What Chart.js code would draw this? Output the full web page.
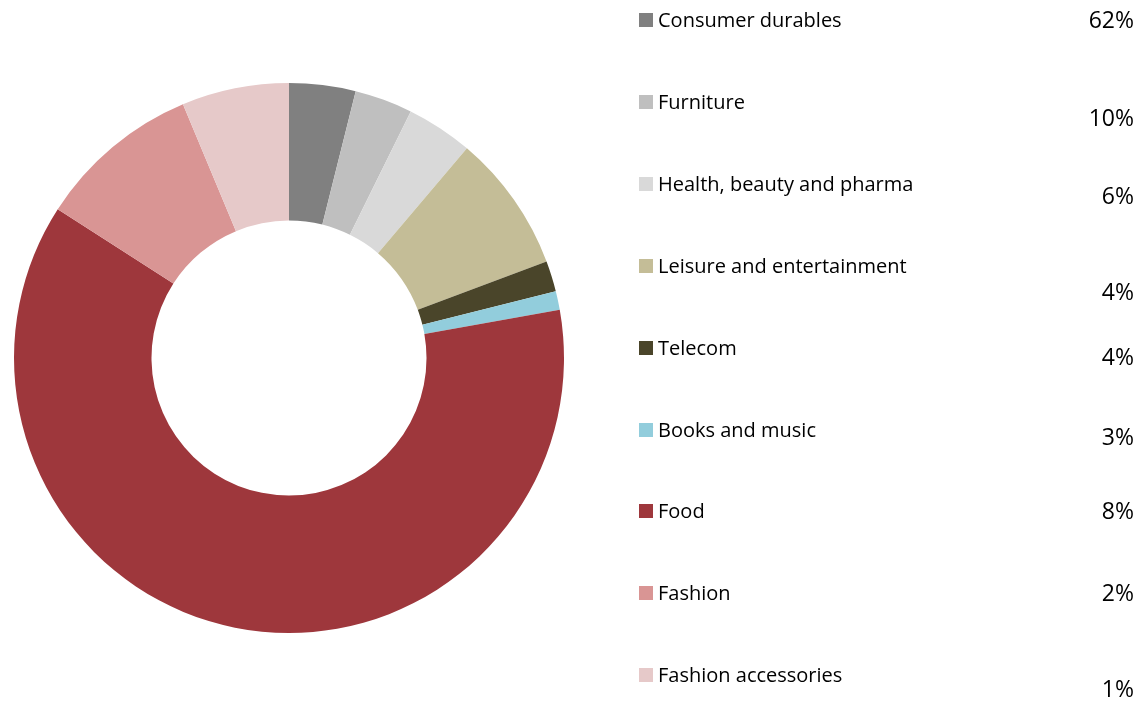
<!DOCTYPE html>
<html>
<head>
<meta charset="utf-8">
<script src="https://cdn.jsdelivr.net/npm/chart.js@4/dist/chart.umd.min.js"></script>
<style>
	html, body { margin: 0; padding: 0; background: #fff; }
	#wrap { width: 1137px; height: 701px; position: relative; }
</style>
</head>
<body>
<div id="wrap"><canvas id="shareChart"></canvas></div>
<script>
	// Data
	var categories = [ 'Consumer durables', 'Furniture', 'Health, beauty and pharma', 'Leisure and entertainment',
		'Telecom', 'Books and music', 'Food', 'Fashion', 'Fashion accessories' ];
	var shares = [ 3.9, 3.4, 3.9, 8.1, 1.8, 1.1, 61.9, 9.6, 6.3 ];
	var colors = [ '#808080', '#bfbfbf', '#d9d9d9', '#c4bd97', '#4a452a', '#92cddc', '#9e373c', '#d99594', '#e6c9c9' ];
	// Percentage text shown in the right column (as printed in the source)
	var pctLabels = [ '62%', '10%', '6%', '4%', '4%', '3%', '8%', '2%', '1%' ];
	var pctOffsets = [ 0, 16, 12, 26, 9, 7, 0, 0, 14 ];

	var FONT = '"Open Sans", Lato, sans-serif';

	/* ═══ LEGEND + PERCENT COLUMN ═══ */

	var sideLegend = {
		id: 'sideLegend',
		afterDraw: function( chart ) {
			var ctx = chart.ctx;
			var top = 20, step = 81.9;
			ctx.save();
			ctx.textBaseline = 'middle';
			for ( var i = 0; i < categories.length; i++ ) {
				var y = Math.round( top + i * step );
				ctx.fillStyle = colors[i];
				ctx.fillRect( 639, y - 7, 14, 14 );
				ctx.fillStyle = '#000';
				ctx.font = '20px ' + FONT;
				ctx.textAlign = 'left';
				ctx.fillText( categories[i], 658, y + 1 );
				ctx.font = '23px ' + FONT;
				ctx.textAlign = 'right';
				ctx.fillText( pctLabels[i], 1134, y + 1 + pctOffsets[i] );
			}
			ctx.restore();
		}
	};

	new Chart( document.getElementById( 'shareChart' ).getContext( '2d' ), {
		type: 'doughnut',
		data: {
			labels: categories,
			datasets: [{
				data: shares,
				backgroundColor: colors,
				borderWidth: 0
			}]
		},
		options: {
			responsive: true,
			maintainAspectRatio: false,
			animation: false,
			cutout: '50%',
			layout: { padding: { left: 14, right: 573, top: 83, bottom: 68 } },
			plugins: {
				legend: { display: false },
				tooltip: { enabled: false }
			}
		},
		plugins: [ sideLegend ]
	});
</script>
</body>
</html>
